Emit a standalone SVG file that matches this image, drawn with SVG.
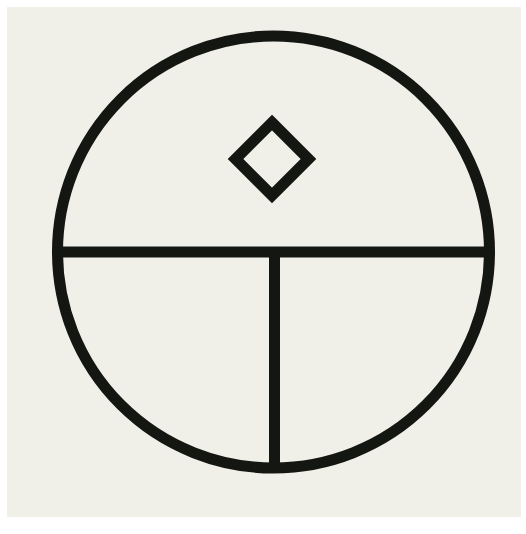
<svg xmlns="http://www.w3.org/2000/svg" width="526" height="534" viewBox="0 0 526 534">
<style>
.ln{fill:none;stroke:#141612;stroke-width:11}
</style>
<rect width="526" height="534" fill="#ffffff"/>
<rect x="7" y="7" width="514" height="510" fill="#f0efe8"/>
<g id="circle"><circle class="ln" cx="273.5" cy="252" r="216"/></g>
<g id="diamond"><polygon class="ln" stroke-linejoin="miter" points="272,122.5 308.5,159 272,195.5 235.5,159"/></g>
<g id="connectors">
<line class="ln" x1="57.5" y1="252" x2="489.5" y2="252"/>
<line class="ln" x1="274.5" y1="252" x2="274.5" y2="468"/>
</g>
</svg>
